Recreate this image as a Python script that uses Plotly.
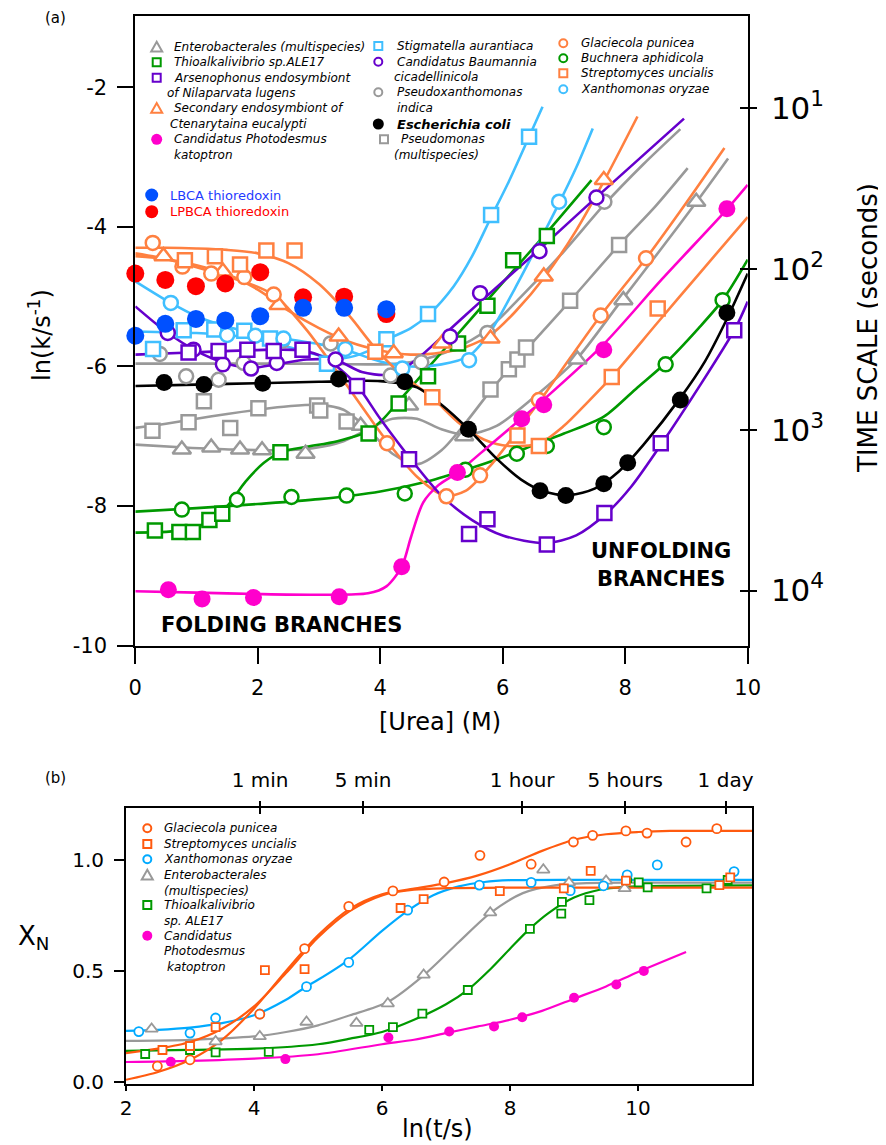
import math
import plotly.graph_objects as go

# the page adds an 8 px body margin; the figure is sized to fit the 886x1145 window
PAGE_OFF = 8
W, H = 886 - PAGE_OFF, 1145 - PAGE_OFF
FONT = "DejaVu Sans"

# ---------------- Panel (a): [Urea] (M) vs ln(k / s^-1) ----------------
ENTERO_UREA = [0.76, 1.24, 1.71, 2.07, 2.78, 3.68, 4.47, 5.37, 7.22, 7.97, 9.16]
ENTERO_LNK = [-7.19, -7.16, -7.19, -7.20, -7.25, -6.85, -6.56, -7.00, -5.90, -5.05, -3.64]
ENTERO_FIT_UREA = [0, 0.8, 1.6, 2.4, 2.9, 3.4, 3.8, 4.2, 4.6, 5.0, 5.4, 5.9, 6.5, 7.2, 7.9, 8.6, 9.2, 9.68]
ENTERO_FIT_LNK = [-7.12, -7.16, -7.19, -7.2, -7.17, -7.07, -6.9, -6.75, -6.75, -6.9, -6.98, -6.85, -6.45, -5.9, -5.1, -4.3, -3.6, -3.02]

THIO_UREA = [0.32, 0.72, 0.94, 1.21, 1.42, 2.37, 3.81, 4.30, 4.78, 5.27, 5.75, 6.17, 6.72]
THIO_LNK = [-8.35, -8.37, -8.37, -8.20, -8.11, -7.23, -6.96, -6.53, -6.14, -5.67, -5.13, -4.48, -4.13]
THIO_FIT_UREA = [0, 0.5, 0.9, 1.2, 1.5, 1.8, 2.1, 2.4, 2.8, 3.3, 3.8, 4.05, 4.3, 4.8, 5.3, 5.8, 6.3, 6.8, 7.45]
THIO_FIT_LNK = [-8.38, -8.37, -8.33, -8.22, -8.0, -7.65, -7.38, -7.22, -7.15, -7.07, -6.93, -6.75, -6.5, -6.0, -5.5, -5.0, -4.5, -4.0, -3.33]

ARSENO_UREA = [0.87, 1.36, 1.83, 2.26, 2.73, 3.62, 4.47, 5.45, 5.75, 6.72, 7.66, 8.58, 9.78]
ARSENO_LNK = [-5.80, -5.78, -5.76, -5.78, -5.76, -6.28, -7.33, -8.40, -8.19, -8.55, -8.10, -7.10, -5.48]
ARSENO_FIT_UREA = [0, 0.9, 1.8, 2.7, 3.1, 3.6, 4.0, 4.5, 5.0, 5.5, 6.0, 6.7, 7.2, 7.7, 8.1, 8.6, 9.2, 9.8, 10]
ARSENO_FIT_LNK = [-5.83, -5.80, -5.77, -5.77, -5.88, -6.25, -6.75, -7.33, -7.85, -8.2, -8.42, -8.53, -8.42, -8.1, -7.72, -7.1, -6.3, -5.45, -5.07]

SECOND_UREA = [0.46, 1.43, 2.34, 3.32, 4.22, 5.01, 5.80, 6.67, 7.65]
SECOND_LNK = [-4.42, -4.64, -5.12, -5.57, -5.81, -5.67, -5.60, -4.71, -3.33]
SECOND_FIT_UREA = [0, 0.5, 1.0, 1.5, 2.0, 2.5, 3.0, 3.5, 4.0, 4.5, 5.0, 5.4, 5.8, 6.2, 6.7, 7.2, 7.65, 8.2]
SECOND_FIT_LNK = [-4.42, -4.46, -4.55, -4.68, -4.9, -5.2, -5.45, -5.65, -5.77, -5.83, -5.8, -5.72, -5.55, -5.22, -4.7, -4.05, -3.35, -2.42]

PHOTO_UREA = [0.54, 1.09, 1.93, 3.33, 4.35, 5.26, 6.31, 6.67, 7.65, 9.66]
PHOTO_LNK = [-9.20, -9.33, -9.31, -9.30, -8.87, -7.52, -6.75, -6.55, -5.76, -3.74]
PHOTO_FIT_UREA = [0, 1, 2, 3, 3.8, 4.1, 4.35, 4.5, 4.7, 4.95, 5.26, 5.8, 6.3, 6.7, 7.65, 8.6, 9.66, 10]
PHOTO_FIT_LNK = [-9.22, -9.24, -9.26, -9.27, -9.25, -9.15, -8.87, -8.45, -7.95, -7.7, -7.52, -7.12, -6.75, -6.45, -5.68, -4.75, -3.75, -3.4]

STIG_UREA = [0.29, 0.79, 1.29, 1.78, 2.20, 3.13, 4.10, 4.78, 5.81, 6.43]
STIG_LNK = [-5.75, -5.48, -5.47, -5.49, -5.60, -5.96, -5.61, -5.25, -3.83, -2.71]
STIG_FIT_UREA = [0, 0.5, 1.0, 1.5, 2.0, 2.5, 3.0, 3.4, 3.8, 4.1, 4.5, 4.8, 5.2, 5.5, 5.8, 6.1, 6.43, 6.65]
STIG_FIT_LNK = [-5.50, -5.51, -5.52, -5.55, -5.62, -5.72, -5.84, -5.88, -5.78, -5.62, -5.45, -5.25, -4.85, -4.42, -3.88, -3.35, -2.71, -2.28]

BAUM_UREA = [0.53, 0.95, 1.43, 1.89, 2.31, 3.27, 5.14, 5.63, 6.60, 7.53]
BAUM_LNK = [-5.52, -5.76, -5.97, -6.03, -5.95, -5.90, -5.57, -4.95, -4.35, -3.58]
BAUM_FIT_UREA = [0, 0.5, 1.0, 1.5, 1.9, 2.3, 2.8, 3.3, 3.7, 4.1, 4.4, 4.7, 5.1, 5.6, 6.6, 7.5, 8.96]
BAUM_FIT_LNK = [-5.14, -5.5, -5.78, -5.96, -6.02, -5.97, -5.9, -5.92, -6.08, -6.12, -6.02, -5.82, -5.5, -5.1, -4.32, -3.6, -2.45]

PXAN_UREA = [0.40, 0.83, 1.36, 1.77, 2.40, 3.19, 4.17, 4.67, 5.75, 7.66]
PXAN_LNK = [-5.82, -6.14, -6.19, -5.95, -5.63, -5.67, -6.13, -5.94, -5.52, -3.64]
PXAN_FIT_UREA = [0, 1, 2, 3, 3.8, 4.3, 4.7, 5.2, 5.75, 6.3, 7.0, 7.66, 8.3, 8.9]
PXAN_FIT_LNK = [-5.96, -5.96, -5.96, -5.96, -5.97, -5.96, -5.9, -5.75, -5.47, -5.0, -4.35, -3.68, -3.1, -2.6]

ECOLI_UREA = [0.47, 1.12, 2.08, 3.32, 4.40, 5.44, 6.61, 7.03, 7.65, 8.04, 8.90, 9.66]
ECOLI_LNK = [-6.23, -6.26, -6.24, -6.18, -6.22, -6.90, -7.78, -7.85, -7.68, -7.38, -6.48, -5.23]
ECOLI_FIT_UREA = [0, 1, 2, 3, 4, 4.6, 5.0, 5.44, 5.9, 6.3, 6.7, 7.1, 7.5, 7.9, 8.3, 8.9, 9.3, 9.66, 10]
ECOLI_FIT_LNK = [-6.28, -6.26, -6.24, -6.22, -6.21, -6.3, -6.55, -6.9, -7.32, -7.62, -7.8, -7.84, -7.75, -7.5, -7.12, -6.45, -5.93, -5.32, -4.67]

PSEUDOM_UREA = [0.28, 0.87, 1.12, 1.55, 2.01, 2.97, 3.02, 3.45, 5.80, 6.10, 6.24, 6.38, 7.10, 7.90]
PSEUDOM_LNK = [-6.92, -6.80, -6.50, -6.88, -6.60, -6.56, -6.63, -6.79, -6.33, -6.04, -5.90, -5.73, -5.06, -4.26]
PSEUDOM_FIT_UREA = [0, 0.5, 1.0, 1.5, 2.0, 2.5, 3.0, 3.4, 3.8, 4.2, 4.6, 5.0, 5.4, 5.8, 6.24, 6.7, 7.1, 7.9, 8.5, 9.02]
PSEUDOM_FIT_LNK = [-6.88, -6.82, -6.75, -6.68, -6.62, -6.57, -6.55, -6.62, -6.9, -7.25, -7.4, -7.2, -6.8, -6.35, -5.9, -5.45, -5.06, -4.26, -3.7, -3.16]

GLAC_UREA = [0.285, 0.77, 1.24, 1.78, 2.26, 4.11, 5.08, 5.63, 6.59, 7.60, 8.34]
GLAC_LNK = [-4.23, -4.57, -4.67, -4.72, -4.97, -7.10, -7.86, -7.56, -6.48, -5.27, -4.45]
GLAC_FIT_UREA = [0, 0.5, 1.0, 1.5, 2.0, 2.3, 2.8, 3.3, 3.8, 4.1, 4.6, 5.05, 5.4, 5.8, 6.2, 6.6, 7.1, 7.6, 8.34, 9.0, 9.62]
GLAC_FIT_LNK = [-4.38, -4.46, -4.58, -4.71, -4.86, -5.0, -5.48, -6.08, -6.7, -7.06, -7.58, -7.85, -7.78, -7.42, -6.97, -6.5, -5.88, -5.27, -4.45, -3.65, -2.87]

BUCH_UREA = [0.76, 1.66, 2.55, 3.45, 4.40, 5.39, 6.23, 6.72, 7.65, 8.66, 9.59]
BUCH_LNK = [-8.05, -7.91, -7.87, -7.85, -7.82, -7.48, -7.25, -7.14, -6.87, -5.97, -5.05]
BUCH_FIT_UREA = [0, 1, 2, 3, 4, 4.8, 5.4, 6.0, 6.5, 7.0, 7.65, 8.2, 8.66, 9.2, 9.59, 10]
BUCH_FIT_LNK = [-8.08, -8.03, -7.97, -7.9, -7.79, -7.64, -7.48, -7.3, -7.13, -6.96, -6.72, -6.3, -5.95, -5.45, -5.05, -4.47]

STREP_UREA = [0.81, 1.30, 1.71, 2.14, 2.60, 3.92, 4.85, 6.24, 6.59, 7.78, 8.53]
STREP_LNK = [-4.48, -4.42, -4.54, -4.34, -4.34, -5.79, -6.44, -6.99, -7.14, -6.15, -5.17]
STREP_FIT_UREA = [0, 0.5, 1.0, 1.5, 2.0, 2.5, 3.0, 3.5, 3.9, 4.3, 4.85, 5.3, 5.7, 6.1, 6.6, 7.0, 7.4, 7.78, 8.53, 9.2, 10]
STREP_FIT_LNK = [-4.30, -4.30, -4.31, -4.33, -4.38, -4.52, -4.82, -5.28, -5.72, -6.08, -6.45, -6.82, -7.05, -7.14, -7.1, -6.85, -6.5, -6.15, -5.37, -4.68, -3.86]

XANTH_UREA = [0.58, 1.50, 1.96, 2.42, 3.43, 4.36, 5.45, 6.92]
XANTH_LNK = [-5.09, -5.55, -5.56, -5.60, -5.75, -6.03, -5.91, -3.64]
XANTH_FIT_UREA = [0, 0.58, 1.0, 1.5, 2.0, 2.5, 3.0, 3.43, 4.0, 4.5, 5.0, 5.45, 5.8, 6.2, 6.5, 6.92, 7.2, 7.47]
XANTH_FIT_LNK = [-4.78, -5.09, -5.28, -5.43, -5.53, -5.61, -5.68, -5.76, -5.93, -6.0, -5.97, -5.85, -5.5, -4.88, -4.38, -3.66, -3.15, -2.59]

LBCA_UREA = [0, 0.49, 0.99, 1.47, 2.04, 2.74, 3.41, 4.10]
LBCA_LNK = [-5.56, -5.39, -5.32, -5.34, -5.28, -5.16, -5.16, -5.18]
LPBCA_UREA = [0, 0.49, 0.99, 1.47, 2.04, 2.74, 3.41, 4.10]
LPBCA_LNK = [-4.67, -4.76, -4.85, -4.81, -4.65, -5.01, -5.00, -5.25]

UREA_TICKS = [0, 2, 4, 6, 8, 10]
LNK_TICKS = [-10, -8, -6, -4, -2]
TIME_SCALE_SECONDS = [10, 100, 1000, 10000]
TIME_SCALE_LABELS = ["10<sup>1</sup>", "10<sup>2</sup>", "10<sup>3</sup>", "10<sup>4</sup>"]

# ---------------- Panel (b): ln(t/s) vs X_N ----------------
B_GLAC_LNT = [2.49, 3.00, 4.09, 4.79, 5.48, 6.17, 6.97, 7.53, 8.33, 8.99, 9.29, 9.81, 10.14, 10.75, 11.23]
B_GLAC_XN = [0.071, 0.10, 0.305, 0.60, 0.79, 0.86, 0.90, 1.02, 0.98, 1.08, 1.11, 1.13, 1.12, 1.08, 1.14]
B_GLAC_FIT_LNT = [2.0, 2.5, 3.0, 3.5, 4.0, 4.5, 5.0, 5.5, 6.0, 6.5, 7.0, 7.5, 8.0, 8.5, 9.0, 9.5, 10.0, 10.5, 11.0, 11.78]
B_GLAC_FIT_XN = [0.01, 0.045, 0.10, 0.19, 0.33, 0.50, 0.66, 0.78, 0.845, 0.87, 0.895, 0.93, 0.98, 1.04, 1.09, 1.115, 1.125, 1.13, 1.13, 1.13]

B_STREP_LNT = [2.57, 3.00, 3.40, 4.17, 4.79, 6.29, 6.65, 7.84, 8.84, 9.26, 9.81, 11.27, 11.44]
B_STREP_XN = [0.144, 0.162, 0.247, 0.503, 0.508, 0.783, 0.823, 0.859, 0.871, 0.95, 0.906, 0.886, 0.921]
B_STREP_FIT_LNT = [2.0, 2.5, 3.0, 3.5, 4.0, 4.5, 5.0, 5.5, 6.0, 6.5, 7.0, 8.0, 9.0, 10.0, 11.78]
B_STREP_FIT_XN = [0.13, 0.15, 0.18, 0.24, 0.34, 0.49, 0.65, 0.77, 0.84, 0.865, 0.872, 0.875, 0.875, 0.875, 0.875]

B_XANTH_LNT = [2.20, 3.00, 3.40, 4.09, 4.82, 5.48, 6.40, 7.52, 8.33, 8.94, 9.46, 9.83, 10.30, 11.50]
B_XANTH_XN = [0.227, 0.22, 0.288, 0.306, 0.429, 0.538, 0.773, 0.886, 0.898, 0.861, 0.883, 0.932, 0.977, 0.947]
B_XANTH_FIT_LNT = [2.0, 2.5, 3.0, 3.5, 4.0, 4.5, 4.82, 5.0, 5.48, 6.0, 6.4, 6.8, 7.2, 7.6, 8.0, 9.0, 10.0, 11.78]
B_XANTH_FIT_XN = [0.23, 0.235, 0.245, 0.265, 0.30, 0.37, 0.43, 0.46, 0.55, 0.68, 0.77, 0.84, 0.88, 0.90, 0.908, 0.91, 0.91, 0.91]

B_ENTERO_LNT = [2.40, 3.40, 4.09, 4.82, 5.60, 6.09, 6.65, 7.69, 8.52, 8.92, 9.50, 9.79]
B_ENTERO_XN = [0.239, 0.182, 0.205, 0.27, 0.265, 0.353, 0.482, 0.762, 0.955, 0.897, 0.905, 0.871]
B_ENTERO_FIT_LNT = [2.0, 3.0, 4.0, 4.5, 5.0, 5.5, 6.09, 6.65, 7.2, 7.69, 8.2, 8.7, 9.2, 10.0, 11.78]
B_ENTERO_FIT_XN = [0.185, 0.19, 0.205, 0.225, 0.255, 0.30, 0.36, 0.48, 0.63, 0.76, 0.85, 0.885, 0.895, 0.897, 0.897]

B_THIO_LNT = [2.30, 3.00, 3.40, 4.23, 5.80, 6.17, 6.63, 7.34, 8.31, 8.80, 8.81, 9.24, 9.83, 10.01, 10.15, 11.07, 11.40]
B_THIO_XN = [0.126, 0.144, 0.133, 0.136, 0.235, 0.247, 0.308, 0.414, 0.689, 0.758, 0.811, 0.818, 0.917, 0.898, 0.876, 0.871, 0.909]
B_THIO_FIT_LNT = [2.0, 3.0, 4.0, 5.0, 5.5, 6.0, 6.5, 7.0, 7.34, 7.7, 8.0, 8.31, 8.6, 9.0, 9.4, 9.8, 10.5, 11.78]
B_THIO_FIT_XN = [0.14, 0.145, 0.15, 0.17, 0.195, 0.225, 0.28, 0.35, 0.415, 0.51, 0.60, 0.69, 0.76, 0.83, 0.865, 0.878, 0.883, 0.885]

B_PHOTO_LNT = [2.70, 4.49, 6.10, 7.05, 7.75, 8.19, 9.00, 9.66, 10.09]
B_PHOTO_XN = [0.091, 0.103, 0.20, 0.227, 0.25, 0.291, 0.379, 0.439, 0.50]
B_PHOTO_FIT_LNT = [2.0, 3.0, 4.0, 5.0, 6.0, 6.5, 7.0, 7.5, 8.0, 8.5, 9.0, 9.5, 10.0, 10.75]
B_PHOTO_FIT_XN = [0.09, 0.095, 0.105, 0.125, 0.17, 0.19, 0.22, 0.25, 0.28, 0.32, 0.375, 0.43, 0.495, 0.585]

LNT_TICKS = [2, 4, 6, 8, 10]
XN_TICKS = [0.0, 0.5, 1.0]
TOP_TIME_SECONDS = [60, 300, 3600, 18000, 86400]
TOP_TIME_LABELS = ["1 min", "5 min", "1 hour", "5 hours", "1 day"]

# ---------------- styling ----------------
ORANGE_A = "#FF8040"
LBLUE_A = "#40BFFF"
GREEN = "#009900"
PURPLE = "#6600CC"
GREY = "#999999"
MAGENTA = "#FF00CC"
BLACK = "#000000"
LBCA_BLUE = "#0050FF"
LPBCA_RED = "#FF0000"
ORANGE_B = "#FF5A0F"
BLUE_B = "#00AAFF"

fig = go.Figure()

SYM = {"sq": "square", "ci": "circle", "tr": "triangle-up", "fc": "circle"}
SIZE_A = {"sq": 14, "ci": 14, "tr": 16, "fc": 17}

series_a = [
    (ENTERO_UREA, ENTERO_LNK, ENTERO_FIT_UREA, ENTERO_FIT_LNK, "tr", GREY),
    (PSEUDOM_UREA, PSEUDOM_LNK, PSEUDOM_FIT_UREA, PSEUDOM_FIT_LNK, "sq", GREY),
    (PXAN_UREA, PXAN_LNK, PXAN_FIT_UREA, PXAN_FIT_LNK, "ci", GREY),
    (THIO_UREA, THIO_LNK, THIO_FIT_UREA, THIO_FIT_LNK, "sq", GREEN),
    (BUCH_UREA, BUCH_LNK, BUCH_FIT_UREA, BUCH_FIT_LNK, "ci", GREEN),
    (STIG_UREA, STIG_LNK, STIG_FIT_UREA, STIG_FIT_LNK, "sq", LBLUE_A),
    (XANTH_UREA, XANTH_LNK, XANTH_FIT_UREA, XANTH_FIT_LNK, "ci", LBLUE_A),
    (SECOND_UREA, SECOND_LNK, SECOND_FIT_UREA, SECOND_FIT_LNK, "tr", ORANGE_A),
    (GLAC_UREA, GLAC_LNK, GLAC_FIT_UREA, GLAC_FIT_LNK, "ci", ORANGE_A),
    (STREP_UREA, STREP_LNK, STREP_FIT_UREA, STREP_FIT_LNK, "sq", ORANGE_A),
    (ECOLI_UREA, ECOLI_LNK, ECOLI_FIT_UREA, ECOLI_FIT_LNK, "fc", BLACK),
    (PHOTO_UREA, PHOTO_LNK, PHOTO_FIT_UREA, PHOTO_FIT_LNK, "fc", MAGENTA),
    (BAUM_UREA, BAUM_LNK, BAUM_FIT_UREA, BAUM_FIT_LNK, "ci", PURPLE),
    (ARSENO_UREA, ARSENO_LNK, ARSENO_FIT_UREA, ARSENO_FIT_LNK, "sq", PURPLE),
]

for u, k, fu, fk, sym, col in series_a:
    fig.add_trace(go.Scatter(x=fu, y=fk, mode="lines", line=dict(color=col, width=2.6, shape="spline", smoothing=0.8),
                             xaxis="x", yaxis="y", showlegend=False, hoverinfo="skip"))
for u, k, fu, fk, sym, col in series_a:
    filled = sym == "fc"
    fig.add_trace(go.Scatter(x=u, y=k, mode="markers", cliponaxis=False,
                             marker=dict(symbol=SYM[sym], size=SIZE_A[sym], color=col if filled else "white",
                                         line=dict(color=col, width=0 if filled else 2.5)),
                             xaxis="x", yaxis="y", showlegend=False, hoverinfo="skip"))

for u, k, col in [(LPBCA_UREA, LPBCA_LNK, LPBCA_RED), (LBCA_UREA, LBCA_LNK, LBCA_BLUE)]:
    fig.add_trace(go.Scatter(x=u, y=k, mode="markers", cliponaxis=False,
                             marker=dict(symbol="circle", size=18, color=col, line=dict(width=0)),
                             xaxis="x", yaxis="y", showlegend=False, hoverinfo="skip"))

# empty traces so that the overlay axes are drawn
for xa, ya in [("x", "y2"), ("x", "y3"), ("x3", "y4"), ("x4", "y4")]:
    fig.add_trace(go.Scatter(x=[], y=[], xaxis=xa, yaxis=ya, showlegend=False, hoverinfo="skip"))

series_b = [
    (B_ENTERO_LNT, B_ENTERO_XN, B_ENTERO_FIT_LNT, B_ENTERO_FIT_XN, "tr", GREY),
    (B_THIO_LNT, B_THIO_XN, B_THIO_FIT_LNT, B_THIO_FIT_XN, "sq", GREEN),
    (B_PHOTO_LNT, B_PHOTO_XN, B_PHOTO_FIT_LNT, B_PHOTO_FIT_XN, "fc", MAGENTA),
    (B_XANTH_LNT, B_XANTH_XN, B_XANTH_FIT_LNT, B_XANTH_FIT_XN, "ci", BLUE_B),
    (B_STREP_LNT, B_STREP_XN, B_STREP_FIT_LNT, B_STREP_FIT_XN, "sq", ORANGE_B),
    (B_GLAC_LNT, B_GLAC_XN, B_GLAC_FIT_LNT, B_GLAC_FIT_XN, "ci", ORANGE_B),
]
SIZE_B = {"sq": 8, "ci": 9, "tr": 11, "fc": 10}
for t, xn, ft, fxn, sym, col in series_b:
    fig.add_trace(go.Scatter(x=ft, y=fxn, mode="lines", line=dict(color=col, width=2.2, shape="spline", smoothing=0.8),
                             xaxis="x2", yaxis="y4", showlegend=False, hoverinfo="skip"))
for t, xn, ft, fxn, sym, col in series_b:
    filled = sym == "fc"
    fig.add_trace(go.Scatter(x=t, y=xn, mode="markers", cliponaxis=False,
                             marker=dict(symbol=SYM[sym], size=SIZE_B[sym], color=col if filled else "white",
                                         line=dict(color=col, width=0 if filled else 1.8)),
                             xaxis="x2", yaxis="y4", showlegend=False, hoverinfo="skip"))


# ---------------- axes (positions given in window pixels) ----------------
def fx(px):
    return (px - PAGE_OFF) / W


def fy(py):
    return 1 - (py - PAGE_OFF) / H


A_RANGE_Y = [-10, -0.98]
B_RANGE_X = [2, 11.78]
B_RANGE_Y = [-0.009, 1.233]
tickfont_a = dict(family=FONT, size=21, color="black")
tickfont_b = dict(family=FONT, size=20, color="black")
common = dict(showgrid=False, zeroline=False, automargin=False, tickcolor="black", tickwidth=2)

time_vals = [-math.log(s) for s in TIME_SCALE_SECONDS]
top_vals = [math.log(s) for s in TOP_TIME_SECONDS]

fig.update_layout(
    xaxis=dict(domain=[fx(135.3), fx(747.7)], range=[0, 10], anchor="y", showline=True, mirror=True,
               linecolor="black", linewidth=2, ticks="outside", ticklen=16, tickvals=UREA_TICKS,
               ticktext=[str(v) for v in UREA_TICKS], tickfont=tickfont_a, ticklabelstandoff=6, **common),
    yaxis=dict(domain=[fy(645.7), fy(16)], range=A_RANGE_Y, anchor="x", showline=True, mirror=True,
               linecolor="black", linewidth=2, ticks="outside", ticklen=16, tickvals=LNK_TICKS,
               ticktext=[str(v) for v in LNK_TICKS], tickfont=tickfont_a, ticklabelstandoff=6, **common),
    yaxis2=dict(overlaying="y", side="right", anchor="x", range=A_RANGE_Y, showline=False, ticks="outside",
                ticklen=8, tickvals=time_vals, ticktext=TIME_SCALE_LABELS,
                tickfont=dict(family=FONT, size=31, color="black"), ticklabelstandoff=8, **common),
    yaxis3=dict(overlaying="y", side="right", anchor="x", range=A_RANGE_Y, showline=False, ticks="inside",
                ticklen=8, tickvals=time_vals, showticklabels=False, **common),
    xaxis2=dict(domain=[fx(126), fx(752)], range=B_RANGE_X, anchor="y4", showline=True, mirror=True,
                linecolor="black", linewidth=2, ticks="outside", ticklen=5, tickvals=LNT_TICKS,
                ticktext=[str(v) for v in LNT_TICKS], tickfont=tickfont_b, ticklabelstandoff=0, **common),
    yaxis4=dict(domain=[fy(1084), fy(808)], range=B_RANGE_Y, anchor="x2", showline=True, mirror=True,
                linecolor="black", linewidth=2, ticks="outside", ticklen=10, tickvals=XN_TICKS,
                ticktext=["%.1f" % v for v in XN_TICKS], tickfont=tickfont_b, ticklabelstandoff=6, **common),
    xaxis3=dict(overlaying="x2", side="top", anchor="y4", range=B_RANGE_X, showline=False, ticks="outside",
                ticklen=6, tickvals=top_vals, ticktext=TOP_TIME_LABELS, tickfont=tickfont_b,
                ticklabelstandoff=6, **common),
    xaxis4=dict(overlaying="x2", side="top", anchor="y4", range=B_RANGE_X, showline=False, ticks="inside",
                ticklen=6, tickvals=top_vals, showticklabels=False, **common),
)

# ---------------- annotations and legend keys ----------------
ann = []
shapes = []


def text(px, py, s, size=12, color="black", anchor="left", angle=0):
    ann.append(dict(x=fx(px), y=fy(py), xref="paper", yref="paper", text=s, showarrow=False,
                    xanchor=anchor, yanchor="middle", textangle=angle,
                    font=dict(family=FONT, size=size, color=color)))


def key(kind, cx, cy, color, size=9, lw=2):
    r = size / 2
    if kind == "tr":
        r = size / 2 + 1
        path = "M %f %f L %f %f L %f %f Z" % (fx(cx - r), fy(cy + r * 0.8), fx(cx + r), fy(cy + r * 0.8),
                                               fx(cx), fy(cy - r * 0.95))
        shapes.append(dict(type="path", xref="paper", yref="paper", path=path, line=dict(color=color, width=lw),
                           fillcolor="white"))
        return
    filled = kind == "fc"
    shapes.append(dict(type="circle" if kind in ("ci", "fc") else "rect", xref="paper", yref="paper",
                       x0=fx(cx - r), x1=fx(cx + r), y0=fy(cy + r), y1=fy(cy - r),
                       line=dict(color=color, width=0 if filled else lw),
                       fillcolor=color if filled else "white"))


# panel (a) legend
key("tr", 156.7, 47, GREY, 9); text(171.7, 47, "<i>Enterobacterales (multispecies)</i>")
key("sq", 156.7, 62.3, GREEN, 8); text(171.7, 62.3, "<i>Thioalkalivibrio sp.ALE17</i>")
key("sq", 156.7, 77.7, PURPLE, 8); text(171.7, 77.7, "<i>Arsenophonus endosymbiont</i>")
text(165, 92.7, "<i>of Nilaparvata lugens</i>")
key("tr", 156.7, 108.3, ORANGE_A, 9); text(171.7, 108.3, "<i>Secondary endosymbiont of</i>")
text(168.3, 124, "<i>Ctenarytaina eucalypti</i>")
key("fc", 156.7, 139.3, MAGENTA, 11); text(171.7, 139.3, "<i>Candidatus Photodesmus</i>")
text(171.7, 154.7, "<i>katoptron</i>")

key("sq", 378.3, 46, LBLUE_A, 8); text(395, 46, "<i>Stigmatella aurantiaca</i>")
key("ci", 378.3, 61.7, PURPLE, 8); text(395, 61.7, "<i>Candidatus Baumannia</i>")
text(392.3, 77, "<i>cicadellinicola</i>")
key("ci", 378.3, 92.3, GREY, 8); text(395, 92.3, "<i>Pseudoxanthomonas</i>")
text(395, 108, "<i>indica</i>")
key("fc", 378.3, 124, BLACK, 11); text(395, 124, "<b><i>Escherichia coli</i></b>", size=13)
key("sq", 384, 139.3, GREY, 8); text(399.3, 139.3, "<i>Pseudomonas</i>")
text(392.3, 155, "<i>(multispecies)</i>")

key("ci", 563.3, 43.3, ORANGE_A, 8); text(579, 43.3, "<i>Glaciecola punicea</i>")
key("ci", 563.3, 58.3, GREEN, 8); text(579, 58.3, "<i>Buchnera aphidicola</i>")
key("sq", 563.3, 73.3, ORANGE_A, 8); text(579, 73.3, "<i>Streptomyces uncialis</i>")
key("ci", 563.3, 89.3, LBLUE_A, 8); text(579, 89.3, "<i>Xanthomonas oryzae</i>")

key("fc", 151.7, 195, LBCA_BLUE, 13); text(168.3, 195, "LBCA thioredoxin", size=13, color="#1F3BFF")
key("fc", 151.7, 211.7, LPBCA_RED, 13); text(168.3, 211.7, "LPBCA thioredoxin", size=13, color=LPBCA_RED)

text(281, 625, "<b>FOLDING BRANCHES</b>", size=21, anchor="center")
text(661, 551, "<b>UNFOLDING</b>", size=21, anchor="center")
text(661, 579, "<b>BRANCHES</b>", size=21, anchor="center")

# axis titles
text(40, 335, "ln(k/s<sup>-1</sup>)", size=24, anchor="center", angle=-90)
text(440, 722, "[Urea] (M)", size=24, anchor="center")
text(868, 328, "TIME SCALE (seconds)", size=26, anchor="center", angle=-90)
text(33, 937, "X<sub>N</sub>", size=26, anchor="center")
text(437, 1129, "ln(t/s)", size=24, anchor="center")
text(68, 18, "(a)", size=15, anchor="right")
text(68, 778, "(b)", size=15, anchor="right")

# panel (b) legend
key("ci", 147.3, 828.3, ORANGE_B, 8); text(162.3, 828.3, "<i>Glaciecola punicea</i>")
key("sq", 147.3, 844, ORANGE_B, 8); text(162.3, 844, "<i>Streptomyces uncialis</i>")
key("ci", 147.3, 859.3, BLUE_B, 8); text(162.3, 859.3, "<i>Xanthomonas oryzae</i>")
key("tr", 147.3, 875, GREY, 9); text(162.3, 875, "<i>Enterobacterales</i>")
text(162.3, 890.5, "<i>(multispecies)</i>")
key("sq", 147.3, 905, GREEN, 8); text(162.3, 905, "<i>Thioalkalivibrio</i>")
text(162.3, 920.5, "<i>sp. ALE17</i>")
key("fc", 147.3, 935.7, MAGENTA, 10); text(162.3, 935.7, "<i>Candidatus</i>")
text(162.3, 951, "<i>Photodesmus</i>")
text(165, 966.5, "<i>katoptron</i>")

fig.update_layout(
    width=W, height=H, autosize=False,
    margin=dict(l=0, r=0, t=0, b=0),
    paper_bgcolor="white", plot_bgcolor="rgba(0,0,0,0)",
    font=dict(family=FONT, color="black"),
    showlegend=False,
    annotations=ann, shapes=shapes,
)

fig.write_html("out.html")
